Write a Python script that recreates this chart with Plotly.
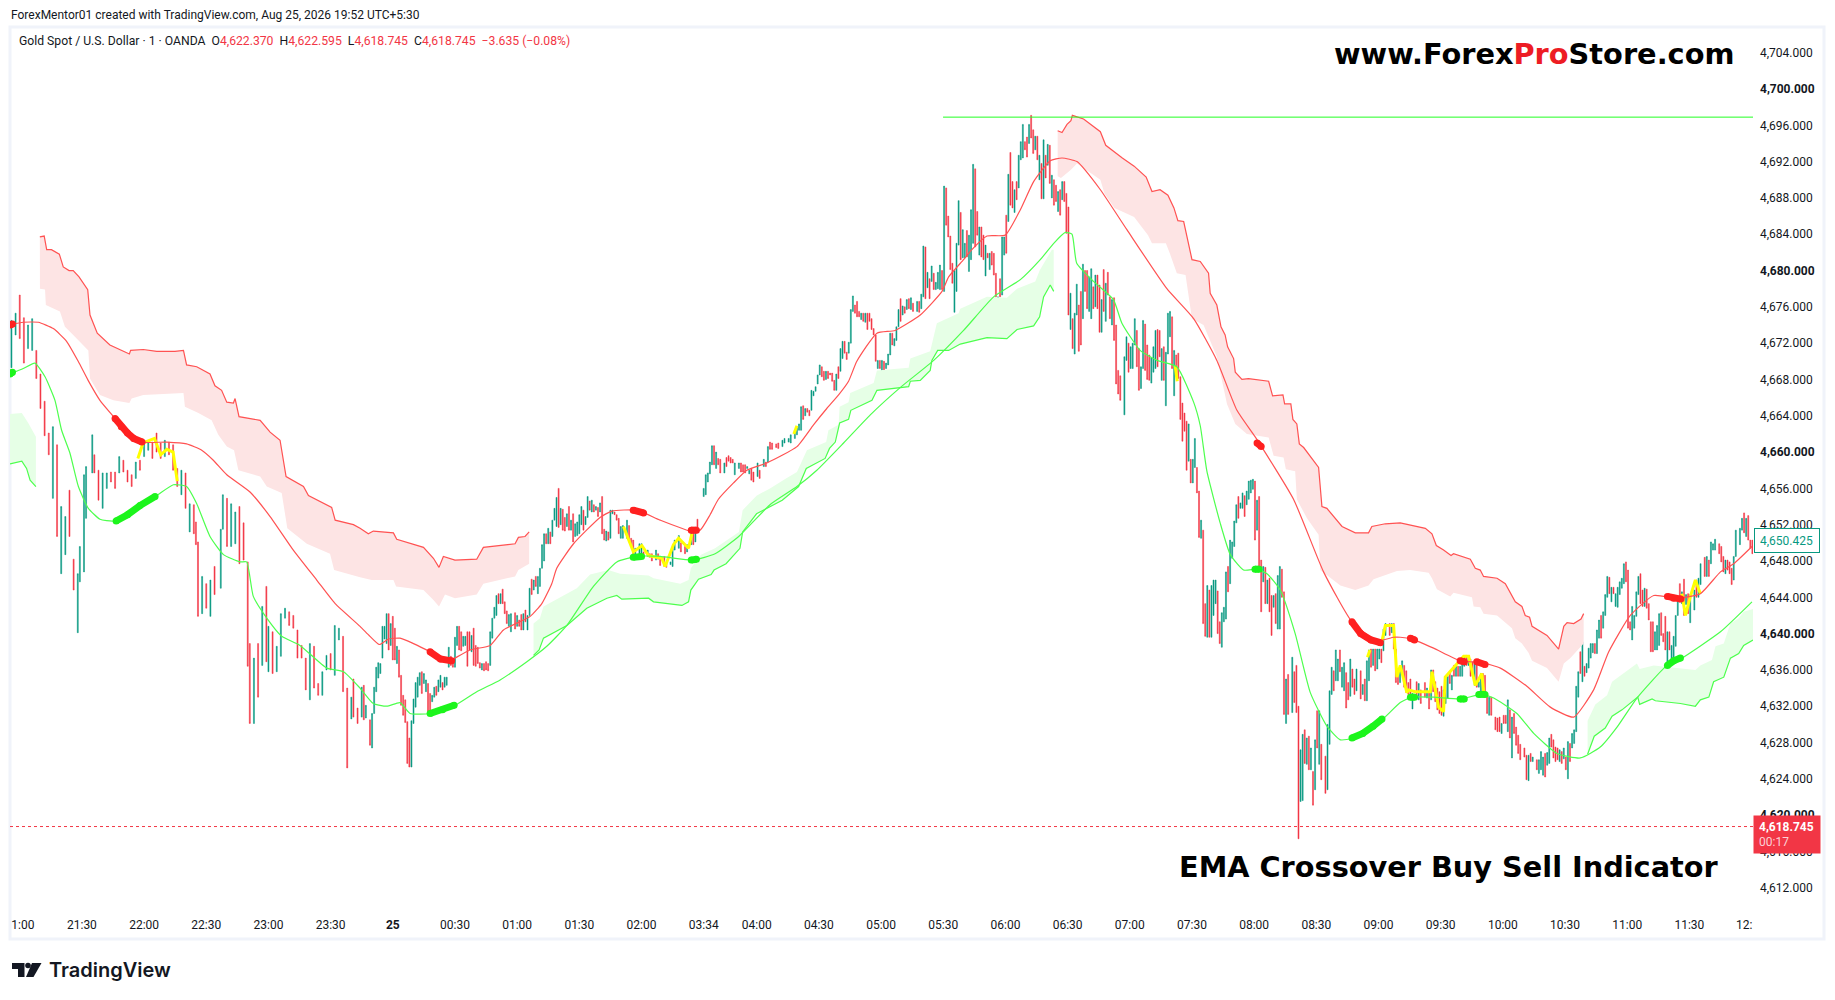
import plotly.graph_objects as go

W = 1835
H = 1000

TEAL = "#089981"
RED = "#f23645"
LINE_RED = "#ff5252"
LINE_GREEN = "#4dff4d"

### candles (x is minutes from 21:00)
bar_minute = [
    -4,-2,0,2,4,6,8,10,12,14,16,18,20,22,24,26,28,29,31,32,35,36,38,40,42,44,46,48,50,52,54,56,58,60,62,64,66,68,70,72,74,76,78,80,82,84,85,86,88,90,92,94,97,98,100,102,104,106,108,110,111,113,115,117,119,120,122,124,126,128,130,132,134,136,138,140,142,144,146,148,150,152,154,156,158,160,161,163,
    165,166,167,169,170,171,172,173,174,175,176,177,178,179,180,181,182,183,184,185,186,187,188,189,190,191,192,193,194,195,196,197,198,199,200,201,202,203,204,205,206,207,208,209,210,211,212,213,214,215,216,217,218,219,220,221,222,223,224,225,226,227,228,229,230,231,232,233,234,235,236,237,239,240,241,242,243,244,245,246,247,248,249,250,251,252,253,254,255,256,257,258,259,260,261,262,263,264,265,266,267,268,269,270,271,272,273,274,275,276,277,278,279,280,281,282,283,284,285,286,287,288,289,290,291,293,294,295,296,297,299,300,301,303,304,305,307,308,309,311,312,314,315,316,318,319,321,322,324,325,326,327,
    330,331,332,333,334,335,336,337,338,340,341,342,343,344,345,347,348,349,350,351,352,353,354,356,357,359,360,361,362,363,365,366,368,369,371,372,374,375,376,377,378,379,380,381,382,383,384,385,386,387,388,389,390,391,392,393,394,395,396,397,398,399,400,401,402,403,404,405,406,407,408,409,410,411,412,413,414,415,416,417,418,419,420,421,422,423,424,425,426,427,428,429,430,431,433,434,435,436,437,438,439,440,441,442,443,444,445,446,447,448,449,450,451,452,453,454,455,456,457,458,459,460,461,462,463,464,465,466,467,468,469,470,471,472,473,474,475,476,477,478,479,480,481,482,483,484,485,486,487,488,489,490,491,492,493,494,495,496,497,498,499,500,501,502,503,504,505,506,507,508,509,510,511,512,513,514,515,516,517,518,519,
    520,521,522,523,524,525,526,527,528,529,530,531,533,534,535,536,537,538,539,540,541,542,543,544,545,546,547,548,549,550,551,552,553,554,555,556,557,558,559,560,561,562,563,564,565,566,567,568,569,570,571,572,573,574,575,576,577,578,579,580,581,582,583,584,585,586,587,588,589,590,591,592,593,594,595,596,597,598,599,600,601,602,603,604,605,606,607,608,609,610,611,612,614,615,616,617,618,619,620,621,622,623,624,625,626,627,628,630,631,632,633,634,635,636,637,638,639,640,641,642,643,644,645,647,648,649,650,651,652,653,654,655,656,657,658,659,661,662,663,664,665,666,667,668,669,670,
    671,672,674,675,676,678,679,680,681,682,683,684,685,686,687,688,689,690,691,692,693,694,695,696,697,698,699,700,701,702,703,704,705,706,707,708,709,710,712,713,714,715,716,717,718,719,720,721,722,723,724,726,727,728,729,730,732,733,734,735,736,737,738,739,740,741,742,743,744,745,746,747,748,749,750,751,752,753,754,755,756,757,758,759,760,761,762,763,764,765,766,767,768,769,770,771,772,773,774,775,776,777,778,779,780,781,782,783,784,785,786,787,788,789,790,791,792,793,794,795,796,797,798,799,800,801,802,803,804,805,806,808,809,810,811,813,814,815,816,817,818,820,821,822,823,824,825,826,827,828,830,831,832,833,834,835,836,
]
bar_open = [
    4669.3,4672.9,4677.3,4674.8,4671.4,4671.2,4671.2,4668.6,4665.6,4662.1,4654.9,4660.8,4646.6,4648.7,4655.8,4648.2,4640.1,4645.7,4646.8,4652.7,4657.7,4659.7,4658.0,4653.8,4656.0,4657.8,4657.8,4657.7,4659.1,4658.0,4657.5,4657.1,4659.1,4659.5,4660.2,4661.1,4662.1,4661.0,4659.5,4661.1,4660.8,4658.2,4655.3,4657.7,4651.2,4654.2,4652.3,4650.1,4642.2,4645.5,4641.9,4647.4,4645.0,4651.5,4654.9,4649.6,4649.9,4654.0,4652.2,4647.9,4638.9,4630.1,4638.9,4636.5,4645.2,4635.8,4640.2,4635.8,4637.5,4641.7,4642.4,4642.0,4640.4,4638.7,4637.3,4632.7,4638.6,4634.5,4633.2,4636.0,4637.8,4635.4,4639.3,4639.7,4634.0,4630.6,4635.0,4631.8,
    4630.8,4634.3,4630.7,4630.5,4627.4,4631.2,4633.6,4635.1,4635.6,4637.3,4639.4,4638.9,4642.2,4638.7,4641.9,4640.6,4636.7,4638.2,4635.4,4633.2,4632.7,4630.3,4628.5,4625.3,4630.1,4631.9,4633.0,4634.3,4635.8,4634.5,4633.6,4634.5,4633.4,4632.5,4633.0,4634.2,4633.6,4634.1,4634.6,4634.1,4634.3,4636.3,4637.5,4637.1,4636.3,4638.7,4640.8,4640.2,4638.6,4638.7,4640.2,4640.2,4638.0,4640.6,4638.7,4638.5,4636.8,4636.0,4636.7,4636.9,4636.7,4636.5,4639.5,4641.7,4642.0,4644.4,4643.3,4644.9,4643.5,4642.5,4640.8,4640.2,4642.3,4640.8,4641.5,4642.1,4640.4,4642.6,4640.4,4642.0,4646.0,4644.8,4646.3,4644.4,4645.2,4647.2,4648.0,4651.0,4649.9,4651.2,4650.7,4652.5,4651.8,4656.0,4652.0,4653.7,4652.8,4651.8,4654.0,4651.4,4653.2,4650.7,4650.8,4651.0,4652.0,4653.6,4652.0,4652.8,4654.6,4653.4,4654.2,4653.6,4653.9,4653.4,4655.1,4651.5,4650.2,4651.2,4650.5,4653.2,4653.4,4653.1,4652.7,4650.5,4650.5,4650.5,4651.9,4650.5,4650.3,4648.3,4648.7,4648.5,4649.0,4648.5,4648.8,4648.8,4648.1,4648.8,4648.5,4648.5,4647.7,4647.6,4647.4,4649.2,4649.4,4650.0,4649.6,4649.0,4649.8,4651.5,4650.1,4652.6,
    4655.1,4655.3,4656.7,4657.6,4658.6,4660.7,4658.2,4659.3,4659.2,4657.7,4659.4,4659.6,4659.4,4659.2,4657.5,4658.2,4658.8,4658.6,4658.6,4658.2,4657.6,4658.2,4657.8,4657.3,4658.0,4658.4,4658.9,4658.9,4661.1,4661.0,4660.9,4661.0,4660.6,4661.0,4661.1,4661.0,4661.5,4661.9,4662.4,4662.4,4665.1,4664.0,4664.8,4664.6,4664.6,4666.2,4666.7,4667.5,4668.5,4669.4,4668.9,4668.0,4668.9,4668.7,4668.7,4667.9,4666.8,4669.4,4668.9,4670.3,4672.2,4671.0,4670.9,4672.0,4675.5,4676.2,4676.6,4675.5,4674.6,4675.3,4674.3,4675.3,4675.3,4674.7,4673.6,4672.9,4669.2,4670.1,4667.6,4670.0,4669.2,4669.6,4670.7,4673.1,4671.7,4672.3,4673.8,4676.9,4675.1,4676.0,4675.7,4676.9,4675.7,4676.4,4675.5,4676.6,4675.8,4677.1,4682.6,4678.1,4679.1,4678.8,4679.7,4677.9,4678.0,4677.9,4680.0,4677.7,4689.1,4686.0,4683.8,4680.8,4675.4,4677.7,4682.8,4686.4,4681.4,4681.4,4684.4,4679.9,4681.2,4683.0,4691.2,4686.5,4681.7,4684.8,4683.9,4679.4,4681.9,4680.1,4682.1,4681.9,4679.7,4676.6,4679.1,4677.3,4681.7,4686.1,4685.4,4693.0,4689.8,4686.4,4689.8,4689.1,4692.2,4692.4,4694.2,4694.7,4694.0,4697.1,4695.5,4693.3,4694.8,4690.0,4691.8,4687.9,4692.7,4691.6,4693.8,4688.0,4690.0,4689.4,4686.5,4688.9,4687.8,4689.8,4688.5,4687.0,4673.5,4674.7,4670.8,4675.1,4676.2,4677.7,4674.7,4680.0,4680.0,4675.5,4674.7,4678.2,4676.0,
    4679.5,4678.4,4673.2,4680.1,4674.4,4679.8,4677.1,4674.0,4677.0,4674.0,4669.0,4668.4,4664.1,4670.1,4672.0,4669.2,4669.2,4671.8,4673.4,4671.4,4667.0,4669.2,4674.1,4671.8,4670.7,4667.6,4668.8,4669.2,4673.5,4673.4,4667.9,4671.6,4665.1,4670.8,4672.7,4674.9,4666.2,4670.7,4670.9,4668.3,4665.4,4664.3,4663.4,4659.0,4659.2,4656.6,4658.3,4658.3,4655.7,4650.5,4651.4,4643.3,4639.6,4644.8,4639.6,4642.0,4643.3,4644.7,4641.3,4638.5,4641.3,4641.6,4647.4,4645.5,4648.3,4649.6,4652.2,4655.1,4653.8,4653.8,4655.2,4654.2,4654.8,4655.5,4655.9,4656.8,4651.4,4655.1,4648.1,4645.7,4647.3,4643.3,4646.1,4644.2,4642.9,4644.4,4640.5,4640.5,4647.1,4644.6,4630.1,4635.5,4631.3,4635.8,4636.5,4632.0,4621.5,4621.6,4629.4,4625.6,4628.7,4625.0,4624.8,4622.8,4631.5,4625.6,4627.8,4626.5,4622.8,4627.8,4633.3,4635.9,4634.8,4634.8,4638.2,4634.1,4633.7,4635.7,4634.6,4633.1,4636.1,4635.0,4633.7,4635.9,4633.3,4635.0,4632.6,4634.8,4638.3,4636.5,4638.3,4636.1,4637.2,4638.3,4638.1,4639.8,4641.1,4640.1,4641.1,4638.3,4635.9,4634.6,4635.5,4636.5,4635.9,4634.6,
    4635.0,4631.7,4634.7,4632.7,4633.8,4634.6,4632.9,4633.6,4632.7,4636.0,4634.7,4634.0,4633.6,4634.2,4630.9,4632.3,4632.9,4635.8,4633.8,4636.5,4635.3,4636.4,4635.3,4635.3,4636.4,4637.6,4636.5,4637.2,4636.9,4634.3,4636.7,4634.1,4633.4,4635.6,4635.4,4633.4,4631.0,4633.0,4630.8,4630.7,4630.8,4629.0,4631.0,4631.0,4629.2,4631.6,4626.3,4631.2,4629.7,4628.8,4627.8,4627.4,4626.6,4623.8,4626.8,4625.9,4626.1,4624.6,4625.0,4624.4,4626.8,4625.5,4625.7,4628.9,4628.3,4627.5,4627.4,4625.9,4627.0,4626.2,4626.4,4624.0,4627.9,4627.4,4627.9,4629.2,4633.0,4638.0,4634.7,4636.4,4635.7,4636.2,4637.3,4637.9,4638.9,4637.8,4639.5,4642.0,4640.6,4642.0,4644.0,4646.2,4643.5,4645.1,4643.0,4642.9,4644.3,4645.0,4645.5,4647.9,4647.0,4641.3,4639.3,4640.6,4641.9,4644.3,4646.6,4644.8,4643.0,4644.9,4643.3,4641.3,4641.3,4638.2,4638.2,4638.7,4642.3,4640.0,4641.9,4635.8,4640.2,4637.1,4637.1,4638.6,4642.0,4645.5,4643.3,4646.0,4643.2,4644.4,4641.2,4642.6,4645.9,4644.0,4645.4,4648.4,4646.3,4648.1,4647.7,4649.2,4649.2,4649.9,4649.6,4648.5,4646.6,4648.1,4647.9,4647.2,4645.9,4648.5,4649.8,4651.4,4653.3,4650.7,4653.0,4650.3,4650.3,
]
bar_close = [
    4674.5,4675.3,4672.5,4669.8,4674.0,4674.7,4668.1,4664.8,4661.8,4659.7,4662.8,4650.7,4654.0,4652.9,4650.7,4644.8,4646.6,4649.6,4657.5,4658.4,4661.9,4657.7,4654.7,4657.7,4657.7,4656.7,4656.0,4659.5,4657.8,4656.7,4656.2,4658.9,4658.0,4661.1,4661.1,4659.3,4660.0,4659.3,4661.3,4659.7,4658.0,4656.2,4658.0,4653.8,4654.3,4651.0,4649.8,4641.9,4646.3,4642.8,4645.9,4644.3,4651.5,4655.3,4649.6,4654.3,4653.4,4647.7,4648.1,4636.4,4630.1,4637.3,4633.0,4643.0,4636.9,4640.8,4635.6,4638.6,4642.2,4642.8,4640.9,4640.6,4637.3,4637.3,4633.8,4638.9,4634.0,4633.2,4635.8,4637.6,4636.0,4640.9,4640.6,4633.6,4625.2,4633.0,4630.8,4630.1,
    4634.1,4630.5,4632.1,4627.7,4631.2,4634.1,4636.3,4636.8,4636.7,4640.8,4640.8,4642.2,4638.2,4641.1,4637.1,4637.1,4638.6,4635.2,4632.1,4631.0,4630.2,4625.7,4625.3,4630.4,4632.8,4634.6,4635.2,4635.7,4633.4,4635.6,4634.9,4631.4,4631.4,4633.2,4634.1,4633.2,4634.9,4635.4,4633.8,4635.2,4635.2,4638.5,4636.5,4636.3,4639.6,4640.8,4638.2,4638.1,4639.7,4639.7,4636.4,4638.2,4639.8,4636.5,4636.4,4636.7,4636.2,4636.7,4635.9,4636.0,4635.9,4640.2,4641.7,4642.9,4644.2,4643.3,4644.4,4643.3,4642.2,4641.1,4642.1,4642.2,4640.5,4642.0,4640.8,4640.4,4642.2,4641.3,4642.0,4645.0,4644.3,4645.9,4645.2,4646.3,4647.2,4649.8,4651.0,4649.9,4651.6,4649.9,4652.5,4653.8,4655.0,4651.7,4653.8,4651.4,4651.3,4653.2,4651.4,4652.5,4650.1,4652.1,4652.3,4653.1,4654.0,4651.4,4652.9,4655.1,4653.6,4654.7,4653.4,4654.0,4652.9,4654.4,4651.0,4650.3,4651.3,4650.3,4653.6,4653.6,4653.1,4652.5,4651.0,4651.8,4651.9,4652.5,4650.3,4649.6,4648.8,4649.4,4649.9,4649.9,4648.3,4649.2,4648.4,4648.0,4649.2,4648.2,4647.5,4647.4,4647.3,4647.9,4649.4,4650.3,4650.8,4649.0,4648.8,4649.8,4651.4,4649.8,4651.4,4651.1,
    4656.0,4657.5,4657.7,4658.9,4660.7,4658.6,4660.0,4658.6,4657.7,4658.8,4658.4,4659.0,4658.8,4658.8,4658.8,4658.8,4657.8,4657.8,4657.7,4658.4,4658.0,4656.9,4656.7,4658.8,4657.1,4659.2,4658.4,4660.6,4660.3,4660.3,4660.5,4660.4,4661.3,4661.5,4661.5,4661.9,4662.4,4662.7,4663.1,4665.0,4663.6,4664.8,4664.4,4664.0,4666.8,4666.7,4667.2,4668.5,4669.6,4668.3,4667.9,4668.9,4668.1,4668.5,4667.8,4666.8,4668.6,4668.1,4671.4,4672.2,4670.9,4670.2,4672.1,4675.7,4677.2,4675.3,4674.9,4674.9,4675.3,4674.4,4675.3,4673.5,4674.4,4673.5,4672.9,4670.0,4670.1,4669.2,4670.1,4668.4,4669.8,4670.8,4673.1,4671.8,4672.5,4673.8,4675.7,4674.4,4676.1,4675.3,4676.8,4675.8,4677.0,4675.5,4676.6,4675.4,4677.4,4682.7,4676.9,4679.8,4676.9,4680.5,4677.9,4678.7,4679.8,4680.6,4677.9,4689.3,4685.0,4683.7,4680.1,4678.6,4680.0,4683.0,4687.7,4681.2,4684.5,4683.0,4681.5,4683.9,4686.7,4691.7,4682.6,4683.9,4684.8,4681.5,4681.2,4682.8,4681.4,4681.9,4680.6,4679.5,4677.1,4677.1,4677.1,4683.7,4683.7,4681.9,4690.6,4687.2,4686.9,4688.9,4687.8,4692.7,4694.2,4696.1,4693.3,4692.5,4696.1,4694.6,4692.9,4694.8,4692.2,4692.7,4687.9,4694.4,4690.2,4693.9,4689.6,4690.5,4687.2,4687.6,4688.7,4686.1,4689.8,4687.6,4684.1,4675.1,4677.5,4671.4,4675.3,4678.5,4671.1,4671.8,4680.7,4677.7,4675.8,4679.3,4680.2,4675.8,4679.5,
    4675.8,4673.2,4676.8,4675.5,4678.6,4677.3,4674.7,4676.8,4672.3,4667.5,4666.4,4665.7,4670.5,4672.7,4668.8,4671.6,4672.0,4674.7,4669.4,4666.8,4669.4,4674.5,4669.0,4668.0,4667.9,4670.4,4671.6,4673.4,4669.4,4670.5,4671.4,4667.9,4671.0,4675.3,4675.5,4669.2,4671.2,4668.6,4668.1,4663.6,4661.2,4662.3,4658.0,4663.1,4656.6,4659.2,4661.5,4655.5,4650.6,4652.5,4641.1,4639.7,4645.3,4639.6,4645.3,4645.9,4645.9,4640.0,4638.9,4642.3,4642.9,4646.8,4644.6,4650.3,4650.1,4652.4,4654.2,4652.7,4654.4,4655.5,4652.9,4655.7,4656.8,4656.9,4657.0,4650.3,4654.7,4647.0,4642.4,4647.4,4643.3,4645.9,4642.4,4639.8,4644.2,4641.1,4646.4,4647.4,4644.0,4631.1,4635.0,4631.1,4637.4,4632.4,4631.3,4617.4,4627.2,4628.9,4625.7,4628.5,4625.0,4627.4,4621.1,4628.3,4627.4,4631.5,4623.9,4622.4,4630.0,4633.7,4636.3,4633.7,4638.2,4637.2,4635.8,4636.3,4636.8,4631.8,4632.7,4637.2,4634.1,4633.3,4636.1,4632.8,4634.4,4632.6,4637.0,4638.2,4636.3,4638.3,4635.9,4638.3,4638.3,4636.8,4640.5,4641.1,4639.8,4641.1,4638.3,4634.6,4634.4,4636.3,4637.0,4634.1,4633.5,4633.3,
    4633.0,4633.4,4632.9,4634.5,4632.3,4633.0,4634.0,4631.7,4636.0,4633.6,4632.5,4631.6,4631.2,4631.0,4633.8,4635.3,4635.3,4634.5,4635.4,4635.3,4636.4,4635.3,4636.4,4637.3,4637.5,4636.5,4637.5,4635.3,4635.3,4636.7,4634.1,4634.7,4635.6,4634.3,4633.0,4631.2,4633.0,4631.0,4629.4,4629.2,4629.2,4630.1,4630.1,4630.1,4632.7,4628.5,4630.8,4629.0,4627.7,4626.8,4626.1,4626.4,4623.9,4626.6,4625.9,4626.4,4625.0,4626.1,4627.0,4626.4,4624.2,4626.9,4628.5,4627.5,4626.3,4625.9,4626.1,4627.2,4625.7,4627.4,4625.0,4628.1,4625.9,4629.0,4629.4,4634.2,4635.8,4635.6,4639.1,4635.3,4636.7,4638.4,4638.9,4638.9,4637.8,4640.4,4641.5,4639.5,4642.4,4644.3,4646.3,4644.4,4645.1,4644.4,4644.4,4645.1,4645.7,4646.1,4647.7,4645.7,4640.6,4640.4,4643.0,4642.0,4644.6,4646.3,4643.3,4643.0,4645.0,4642.8,4641.5,4638.0,4638.0,4640.2,4640.9,4642.2,4639.8,4639.1,4638.2,4640.2,4638.2,4638.7,4639.7,4642.0,4643.9,4643.5,4644.6,4642.0,4644.3,4642.2,4644.3,4644.8,4644.0,4646.1,4647.7,4646.3,4648.5,4646.3,4650.1,4649.9,4650.4,4648.8,4647.9,4646.8,4648.1,4647.0,4646.6,4645.4,4648.5,4651.4,4651.6,4652.7,4651.1,4652.7,4650.3,4649.4,4648.8,
]

### slow and fast lines
red_line_x = [-4.7,1.7,9,16.2,22.6,28.2,33,38.7,46,51.6,58.8,70.9,80.5,87.8,93.4,99.9,111.1,120.8,132,143.3,152.2,164.2,169,173.5,177.9,183.5,190,198,206.8,210,217.3,227,233.4,246.3,251.9,256.7,259.1,267.2,280,285.7,297.7,309,323.5,328.3,333.1,337.1,344.4,350.8,360.5,375,383,389.4,395.1,399.9,403.9,413.6,422.4,434.5,445,448.2,455.4,459.4,466.7,475.5,482.8,489.2,497.2,502.9,510.1,521.4,534.2,553.5,566.4,577.6,587.3,596.9,614.6,629.1,642.8,654.9,662.9,666.1,671.7,682.2,695.1,705.5,714.4,727.2,738.5,749.8,759.4,766.7,777.1,788.4,799.7,810.9,820.6,827,835.8]
red_line_p = [4674.0,4674.3,4674.3,4673.6,4672.2,4670.0,4667.9,4665.7,4663.7,4662.2,4661.1,4661.1,4660.9,4660.2,4659.1,4657.5,4655.6,4652.9,4649.2,4645.9,4643.3,4640.8,4639.7,4638.8,4639.4,4639.5,4638.9,4638,4636.9,4637.3,4638.2,4638.7,4640.4,4641.9,4643.3,4645.5,4647.2,4649.9,4652.8,4653.5,4653.6,4652.5,4651.3,4651.4,4653.1,4654.8,4656.6,4658,4658.8,4660.6,4663,4664.8,4666.3,4667.8,4670,4673.1,4673.4,4675.1,4677.7,4679.3,4681.2,4682.3,4683.8,4683.9,4686.7,4689.8,4692.1,4692.4,4692,4688.9,4684.5,4678,4674.7,4670.1,4664.6,4661.4,4654.8,4646.8,4641.3,4639.2,4639.6,4639.6,4639.4,4638.4,4637,4636.8,4636.2,4634.2,4631.9,4630.8,4633.8,4638,4642,4644.2,4643.9,4644.4,4646.8,4647.7,4649.6]
green_line_x = [-4.7,1.7,7.3,12.2,17,20.2,24.2,28.3,33.1,38.7,45.2,51.6,66.1,74.1,80.5,85.4,91.8,98.3,106.3,109.5,112.7,119.2,126.4,135.2,148.1,156.2,164.2,170.6,177.1,183.5,188.3,198,210,220.5,231.8,244.7,254.3,264,276.8,288.1,297.7,309,325.1,335.5,346.9,362,375,384.6,397.5,410.4,424.8,441,455.4,469.9,482.8,492.4,498.9,504.5,507.7,510,518.1,527.7,531.8,540.6,548.7,558.3,566.4,569.6,572.8,579.2,584.1,590.5,596.9,601.8,608.2,615.4,622.7,630.7,637.2,643.6,657.3,666.1,671.7,682.2,695.1,705.5,711.2,722.4,730.5,741.7,753,762.6,770.7,780.3,794.8,801.3,820.6,835.8]
green_line_p = [4668.6,4669.2,4669.8,4668.3,4665.7,4662.4,4659.9,4656.2,4653.8,4652.6,4652.4,4653.1,4655.2,4656.4,4656.2,4654.3,4650.7,4648.7,4647.9,4647.9,4644.1,4641.7,4639.7,4638.7,4636.2,4635.8,4634,4632.3,4632,4632.4,4631.2,4631.2,4632.1,4633.6,4634.9,4636.9,4638.6,4640.9,4645.2,4647.9,4648.5,4648.5,4648.1,4648.8,4650.7,4654.2,4656.2,4658,4661,4664.1,4667.1,4670.1,4673.4,4677.1,4679,4681.2,4683,4684.2,4684,4680.8,4678.8,4676.8,4674.2,4671.2,4670.1,4669.4,4665.5,4662.9,4657.9,4652.2,4648.7,4647,4647.1,4646.6,4644.8,4640,4633.5,4629.8,4628.3,4628.5,4630.5,4632.4,4633,4633,4632.8,4633.3,4632.9,4631.2,4629,4626.8,4626.3,4627.5,4629.7,4632.9,4636.5,4637.2,4640.2,4643.5]

### red clouds
cloud_red1_top_x = [9.7,11.8,13,15.3,19.1,21,23.8,25.8,28.6,32.8,33.9,35.5,37.4,43.5,52.9,53.5,59.6,66.1,74.9,79,80.5,85.4,91.8,94.2,97.4,99.9,103.1,103.9,105.8,116,120.8,125.6,128.5,136.9,139.3,150.5,152.2,161,164.2,168.2,170.6,180.3,181.9,194.8,199.6,202.3,204.4,210,220.5,223.7,239,240.6,243.8,245.8]
cloud_red1_top_p = [4683.7,4683.8,4682.3,4682.3,4681.8,4680.4,4680,4680,4679.3,4677.9,4675.1,4674.2,4673.1,4671.8,4670.8,4671.2,4671.3,4671.1,4671.1,4671.2,4669.6,4669.4,4668.6,4667.3,4666.8,4665.5,4665.4,4665.9,4663.9,4663.5,4662.2,4661.3,4657.3,4656.2,4655.2,4653.9,4652.5,4652,4651.6,4651,4651.3,4651.1,4650.4,4649.5,4648.3,4647.3,4648.5,4648.1,4648.2,4649.5,4649.9,4650.6,4650.7,4651.2]
cloud_red1_low_x = [9.75,12.2,12.6,19.4,21.8,25.8,33.1,33.9,38.7,45.2,52.9,54,59.6,79,79.7,86.2,92.6,95.8,99.9,103.4,105.5,116,119.2,126.4,129.1,138.5,149.7,151.7,164.2,169.8,180.3,181.6,194.8,199.6,202.3,205.2,210,220.5,223.7,239,240.6,245.8]
cloud_red1_low_p = [4678,4677.9,4676.2,4675.5,4673.8,4672.9,4671.2,4668.1,4666.3,4665.7,4665.4,4665.9,4666.3,4666.5,4665,4664.3,4663.5,4661.9,4660.6,4660.2,4658,4657.3,4656.2,4655.5,4651.6,4649.9,4648.8,4647,4646.2,4645.9,4645.9,4645.2,4644.8,4643.7,4643,4644.3,4643.9,4644.3,4645.5,4646.3,4647,4647.7]
cloud_red2_top_x = [500.8,502.9,505.3,507.2,507.9,513.3,521.4,524,532,537.7,543.5,546.3,550.2,554,556.9,558.8,561.6,565.6,569.6,573.6,574.4,577.6,579.6,581.6,582.8,585.7,586.5,589.7,592.9,602.6,604.5,609.5,610.3,613.3,614.3,616.2,617.4,619.5,626.7,628.3,630.7,638,644.4,650.8,652.4,658.9,666.1,671.7,678.2,681.4,683.5,687,690.6,691.8,699.9,702.3,704.7,706.3,712.8,716.8,721.6,724.8,726.4,728.5,729.7,736.9,742.5,745,746.6,749.8,753.3,754.6]
cloud_red2_top_p = [4695.4,4695.2,4696.1,4696.5,4697.1,4696.7,4695.3,4693.8,4692.4,4691.5,4690.3,4688.7,4688.9,4688.3,4686.9,4685.5,4685.4,4681.2,4681,4679.7,4677.5,4676.2,4673.8,4672.9,4671.6,4670.3,4668.8,4668,4668.1,4667.8,4666.2,4666.3,4665.3,4665.3,4663.6,4663.1,4660.9,4660.5,4658.3,4654,4653.8,4651.8,4651.1,4651.1,4651.8,4652.1,4652.2,4651.9,4651.6,4651,4649.7,4649.2,4648.6,4648.8,4648.2,4647.2,4647,4646.3,4646.1,4645.5,4643.5,4643,4642,4641.8,4640.8,4639.8,4638.3,4640.8,4641.2,4641.1,4641.6,4642.2]
cloud_red2_low_x = [500.8,502.4,507.2,510.1,521.4,523.4,528.2,537.7,544.4,546.3,553,554.9,558.3,562.5,565.6,571.2,577.6,582.5,586.5,592.1,602.6,605,609.8,610.9,615.4,616.2,621.1,626.7,627.5,637.2,644.4,650.8,653.2,664.5,670.9,679.8,681.4,683.8,690.2,691.8,700.7,701.5,704.7,706.3,712.8,720,721.6,724.8,728,729.7,736.9,742.5,745,748.2,754.6]
cloud_red2_low_p = [4690.4,4690.2,4691.1,4691.8,4690,4688.5,4686.9,4685.9,4683.9,4683,4683,4681.9,4679.7,4679.5,4674.7,4674,4670.5,4665.3,4663.1,4662,4661.6,4659.6,4659.4,4658.1,4657.9,4654.8,4652.7,4650.9,4647,4645.3,4644.8,4645.3,4646,4646.9,4647,4646.7,4646.1,4644.9,4644.1,4644.5,4644,4643,4642.9,4642.2,4642,4640.6,4639.5,4638.9,4637.9,4637,4636.2,4634.7,4636.7,4637.3,4638.9]

### green clouds
cloud_green1_top_x = [-4.7,1,4.1,7.8]
cloud_green1_top_p = [4664.2,4664.3,4663.2,4661.7]
cloud_green1_low_x = [-4.7,1,3.3,5,7.8]
cloud_green1_low_p = [4658.7,4659,4658.2,4656.9,4656.2]
cloud_green2_top_x = [247.9,251,252.7,268.8,275.2,284,289.7,303.4,305.8,318.7,322.7,323.8,328.7,335.5,347,348.8,355.5,362,369.7,375,379.8,389.1,390.2,395.1,395.6,399.9,400.7,412,413.6,428.9,429.7,439.3,442.5,453,453.8,466.7,476.3,481.2,490,492.1,498,498.9]
cloud_green2_top_p = [4641.1,4641.7,4643,4645,4646.5,4647,4646.6,4646.4,4646.1,4645.5,4645.9,4647.2,4648.7,4649.4,4651.2,4653.6,4655.2,4656,4657.1,4657.8,4660.2,4661.1,4662.4,4663,4665,4665.5,4666.5,4667.6,4669,4669.3,4670.3,4671.1,4674.2,4675.3,4675.8,4677.1,4677,4678,4678.8,4680,4682.3,4682.3]
cloud_green2_low_x = [247.9,250.6,252.7,264,273.6,283.3,288.1,290.5,303.4,305.8,319.5,322.7,323.8,327.5,333.6,335,340.8,347.5,348.8,355.5,367.9,375.8,379.5,388.6,390.7,393.5,395.6,399.9,401,411.2,413.6,428.9,429.7,434.5,439.3,440.1,442.9,448.2,453.8,466.7,476.3,481.2,489.2,492.1,494,497.2,498.9]
cloud_green2_low_p = [4637.6,4638.2,4639.5,4640.9,4642.8,4643.9,4644.2,4643.8,4643.9,4643.5,4643.1,4643.5,4644.8,4646,4646.5,4647,4647.7,4649.4,4651.2,4653.2,4654.7,4656.2,4658.2,4659.3,4660.4,4661.1,4663.2,4663.6,4664.6,4665.7,4666.8,4667.2,4667.8,4667.9,4669,4670.1,4671.2,4671.2,4671.9,4672.6,4672.5,4673.5,4673.9,4674.9,4677.1,4678.4,4677.7]
cloud_green3_top_x = [756.5,760.2,765.9,768.3,780.3,781.6,788.4,808.5,810.9,816.5,818.2,822.2,825.4,829.4,831.8,836.3]
cloud_green3_top_p = [4630.4,4632.2,4633.2,4634.7,4636.7,4636.1,4636.5,4636,4636.5,4637.1,4638.6,4638.9,4641.1,4641.7,4642.4,4642.7]
cloud_green3_low_x = [756.5,759.7,765,768.3,773.1,780.7,781.6,787.6,789.2,801.3,808.5,810.9,815,817.3,822.2,825.4,829.4,831.8,836.3]
cloud_green3_low_p = [4626.7,4628.7,4629.6,4630.9,4631.6,4633,4632.2,4632.8,4632.6,4632.3,4632,4632.7,4633,4634.7,4635.2,4637.3,4637.8,4638.7,4639.3]

### thick signal pieces, None breaks the line
signal_red_x = [-4.7,-3.5,None,46,49,52,55,59,None,198,203,208.4,None,296,301,None,324,326.5,None,597,599,None,642.8,647,652,656.5,None,671,673,None,695,697,None,703,707,None,795,798,801.5]
signal_red_p = [4674,4674.1,None,4663.7,4662.8,4662.1,4661.5,4661.1,None,4638,4637.2,4637,None,4653.6,4653.3,None,4651.4,4651.4,None,4661,4660.6,None,4641.3,4640,4639.3,4639,None,4639.5,4639.3,None,4637,4636.9,None,4636.9,4636.6,None,4644.1,4643.9,4643.8]
signal_green_x = [-4.7,-3.5,None,46.5,52,58,65.3,None,198,204,209.6,None,296,300,None,324,326.5,None,596,598,None,642.8,648,653,657.3,None,671,673,None,695,697,None,704,707,None,795,798,801.3]
signal_green_p = [4668.6,4668.8,None,4652.4,4653.1,4654.1,4655.1,None,4631.2,4631.6,4632.1,None,4648.4,4648.5,None,4648.1,4648.2,None,4647.1,4647.1,None,4628.5,4629,4629.8,4630.6,None,4633,4633,None,4632.8,4632.8,None,4633.3,4633.3,None,4636.5,4637,4637.3]
yellow_x = [57,59.5,65,68,71,74,76,None,291.3,296.1,300.2,303.4,309.8,311.4,315.4,317.9,322.7,324.3,None,373.5,375,None,557.5,558.5,None,650.3,651.5,None,657.3,658.9,662.9,664.5,666.1,669.3,670.1,673.3,680.6,681.4,684.6,687,687.8,696.7,699.1,702.3,705.5,706.3,None,802,803.7,806.1,808.5,810.9]
yellow_p = [4659.3,4661,4661.5,4659.7,4660.3,4660,4656.8,None,4651.8,4649,4649.7,4648.6,4648.3,4647.4,4649.8,4650.5,4649.4,4651,None,4662,4662.9,None,4669.5,4667.8,None,4637.4,4638.2,None,4639.2,4640.9,4640.9,4635.2,4636.5,4633.5,4633.8,4633.6,4633.6,4635.8,4631.9,4631.4,4635.2,4637.5,4637.5,4634.3,4635.6,4633.6,None,4644.4,4642,4644.1,4645.9,4644.4]

top_line_x = [445.5,836.3]
top_line_p = [4696.9,4696.9]
last_x = [-4.7,836.3]
last_p = [4618.745,4618.745]

### axes, the session gap pulls ticks after 03:34 back a little
time_ticks = [1.5,30,60,90,120,150,180,210,240,270,300,330,355.6,385.6,415.6,445.6,475.6,505.6,535.6,565.6,595.6,625.6,655.6,685.6,715.6,745.6,775.6,805.6,832]
time_labels = ["1:00","21:30","22:00","22:30","23:00","23:30","<b>25</b>","00:30","01:00","01:30","02:00","03:34","04:00","04:30","05:00","05:30","06:00","06:30","07:00","07:30","08:00","08:30","09:00","09:30","10:00","10:30","11:00","11:30","12:"]
price_ticks = list(range(4612,4708,4))
price_labels = [("<b>{:,.3f}</b>" if p % 20 == 0 else "{:,.3f}").format(p) for p in price_ticks]


def px(x):
    return x / W

def py(y):
    return 1 - y / H

def path(points):
    return "M " + " L ".join(f"{px(a):.5f} {py(b):.5f}" for a, b in points) + " Z"


fig = go.Figure()

# clouds first so candles stay on top
for tx, tp, lx, lp, fill, col in [
    (cloud_red1_top_x, cloud_red1_top_p, cloud_red1_low_x, cloud_red1_low_p, "#fde4e4", LINE_RED),
    (cloud_red2_top_x, cloud_red2_top_p, cloud_red2_low_x, cloud_red2_low_p, "#fde4e4", LINE_RED),
    (cloud_green1_top_x, cloud_green1_top_p, cloud_green1_low_x, cloud_green1_low_p, "#e6ffe6", LINE_GREEN),
    (cloud_green2_top_x, cloud_green2_top_p, cloud_green2_low_x, cloud_green2_low_p, "#e6ffe6", LINE_GREEN),
    (cloud_green3_top_x, cloud_green3_top_p, cloud_green3_low_x, cloud_green3_low_p, "#e6ffe6", LINE_GREEN),
]:
    fig.add_trace(go.Scatter(x=tx + lx[::-1], y=tp + lp[::-1], mode="none", fill="toself", fillcolor=fill, hoverinfo="skip"))
    edge_x, edge_p = (tx, tp) if col == LINE_RED else (lx, lp)
    fig.add_trace(go.Scatter(x=edge_x, y=edge_p, mode="lines", line=dict(color=col, width=1.2), hoverinfo="skip"))

fig.add_trace(go.Scatter(x=yellow_x, y=yellow_p, mode="lines", line=dict(color="#ffff00", width=3), hoverinfo="skip"))

fig.add_trace(go.Candlestick(
    x=bar_minute,
    open=bar_open,
    close=bar_close,
    high=[max(a, b) for a, b in zip(bar_open, bar_close)],
    low=[min(a, b) for a, b in zip(bar_open, bar_close)],
    increasing=dict(line=dict(color=TEAL, width=0.5), fillcolor=TEAL),
    decreasing=dict(line=dict(color=RED, width=0.5), fillcolor=RED),
))

fig.add_trace(go.Scatter(x=red_line_x, y=red_line_p, mode="lines", line=dict(color=LINE_RED, width=1.2, shape="spline", smoothing=0.5), hoverinfo="skip"))
fig.add_trace(go.Scatter(x=green_line_x, y=green_line_p, mode="lines", line=dict(color=LINE_GREEN, width=1.2, shape="spline", smoothing=0.5), hoverinfo="skip"))
fig.add_trace(go.Scatter(x=signal_red_x, y=signal_red_p, mode="lines+markers", line=dict(color="#ff2020", width=7), marker=dict(color="#ff2020", size=7), hoverinfo="skip"))
fig.add_trace(go.Scatter(x=signal_green_x, y=signal_green_p, mode="lines+markers", line=dict(color="#1cf51c", width=7), marker=dict(color="#1cf51c", size=7), hoverinfo="skip"))
fig.add_trace(go.Scatter(x=top_line_x, y=top_line_p, mode="lines", line=dict(color="#22ff22", width=1), hoverinfo="skip"))
fig.add_trace(go.Scatter(x=last_x, y=last_p, mode="lines", line=dict(color=RED, width=1, dash="dot"), hoverinfo="skip"))

# frame and logo
shapes = [
    dict(type="rect", xref="paper", yref="paper", x0=px(10), x1=px(1824), y0=py(939), y1=py(27), line=dict(color="#f0f3fa", width=3), layer="below"),
    dict(type="path", xref="paper", yref="paper", path=path([(12,963),(24.5,963),(24.5,977),(18,977),(18,969),(12,969)]), fillcolor="#131722", line_width=0),
    dict(type="circle", xref="paper", yref="paper", x0=px(25.2), x1=px(30.8), y0=py(968.3), y1=py(962.7), fillcolor="#131722", line_width=0),
    dict(type="path", xref="paper", yref="paper", path=path([(32,963),(41.5,963),(33.5,977),(26,977)]), fillcolor="#131722", line_width=0),
]


def note(x, y, text, size=12, color="#131722", family="Roboto", xanchor="left", weight=None, borderpad=0, **kw):
    fig.add_annotation(xref="paper", yref="paper", x=px(x), y=py(y), text=text, showarrow=False,
                       xanchor=xanchor, yanchor="middle", align="left",
                       font=dict(family=family, size=size, color=color, weight=weight), borderpad=borderpad, **kw)


note(10, 15, "ForexMentor01 created with TradingView.com, Aug 25, 2026 19:52 UTC+5:30")
pr = '<span style="color:#f23645">'
note(18, 41, "Gold Spot / U.S. Dollar · 1 · OANDA  "
     f"O{pr}4,622.370</span>  H{pr}4,622.595</span>  L{pr}4,618.745</span>  C{pr}4,618.745</span>  "
     f"{pr}−3.635 (−0.08%)</span>", size=12.2)
note(1333, 54, '<b>www.Forex<span style="color:#ed1c24">Pro</span>Store.com</b>', size=28.8, color="#000000", family="DejaVu Sans")
note(1178, 867, "<b>EMA Crossover Buy Sell Indicator</b>", size=28.75, color="#000000", family="DejaVu Sans")
note(48, 970, "TradingView", size=20, family="Inter", weight=600)

note(1787, 540, "4,650.425", color=TEAL, xanchor="center", bgcolor="#ffffff", bordercolor=TEAL, borderwidth=1, width=54, height=13, borderpad=5)
note(1787, 834.5, '<span style="color:#ffffff"><b>4,618.745</b></span><br><span style="color:#fbd0d5">00:17</span>', xanchor="center", bgcolor=RED, width=56, height=27, borderpad=5)

fig.update_layout(
    width=W,
    height=H,
    margin=dict(l=0, r=0, t=0, b=0),
    paper_bgcolor="#ffffff",
    plot_bgcolor="#ffffff",
    showlegend=False,
    shapes=shapes,
    xaxis=dict(
        domain=[px(10), px(1753)],
        type="linear",
        range=[-4.7, 836.3],
        rangeslider=dict(visible=False),
        tickmode="array",
        tickvals=time_ticks,
        ticktext=time_labels,
        tickfont=dict(family="Roboto", size=12, color="#131722"),
        ticks="",
        ticklabelstandoff=8,
        showgrid=False,
        zeroline=False,
        showline=False,
    ),
    yaxis=dict(
        domain=[py(908), py(27)],
        range=[4609.77, 4706.83],
        side="right",
        tickmode="array",
        tickvals=price_ticks,
        ticktext=price_labels,
        tickfont=dict(family="Roboto", size=12, color="#131722"),
        ticks="",
        ticklabelstandoff=6,
        showgrid=False,
        zeroline=False,
        showline=False,
    ),
)

# page margin would push the chart 8px off
fig.write_html("out.html", config=dict(displayModeBar=False), post_script="document.body.style.margin='0';")
